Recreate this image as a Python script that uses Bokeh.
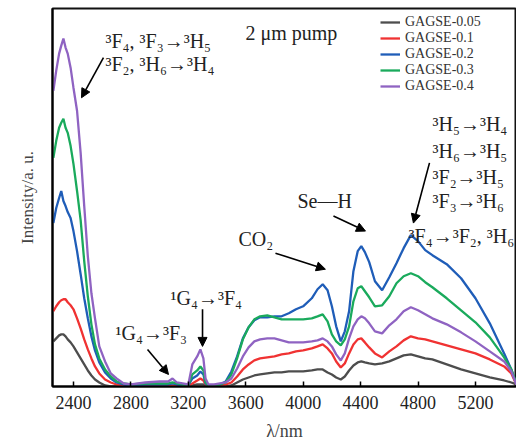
from bokeh.plotting import figure
from bokeh.models import Range1d, Label, Arrow, NormalHead, Legend, LegendItem, FixedTicker
from bokeh.embed import file_html
from bokeh.resources import INLINE

# ---------------- data ----------------
wavelength = [2260, 2280, 2300, 2315, 2330, 2345, 2360, 2380, 2400, 2425, 2450, 2475, 2500, 2525,
              2550, 2580, 2620, 2660, 2700, 2750, 2800,
              2900, 3000, 3060, 3090, 3120, 3160, 3200,
              3228, 3262, 3284, 3305, 3320, 3340, 3380, 3420,
              3460, 3500, 3540, 3580, 3620, 3660, 3700, 3750, 3800, 3850, 3900, 3950,
              4000, 4060, 4100, 4136, 4170, 4200, 4230, 4262, 4290, 4320, 4350, 4380, 4405, 4430,
              4460, 4500, 4550, 4600, 4650, 4700, 4750, 4800, 4850, 4900, 5000, 5100, 5200, 5300,
              5400, 5450, 5485]

gagse_005 = [45, 48, 51, 52, 52, 50, 47, 44, 40, 34, 28, 22, 16, 11, 7, 4, 1, 0, 0, 0, 0,
             0, 0, 0, 0, 0, 0, 0,
             1, 2, 2, 2, 1, 0, 0, 0,
             0, 1, 4, 7, 9, 11, 12, 13, 14, 14, 15, 15,
             15, 16, 17, 17, 14, 12, 9, 7, 10, 16, 21, 24, 25, 24, 23, 22, 23, 25, 28, 31, 32,
             30, 28, 27, 22, 17, 13, 9, 6, 4, 2]
gagse_01 = [75, 80, 84, 86, 87, 87, 84, 81, 77, 68, 58, 47, 37, 28, 20, 13, 7, 4, 2, 1, 1,
            1, 1, 1, 1, 1, 1, 1,
            3, 6, 8, 6, 2, 1, 1, 2,
            2, 4, 10, 17, 22, 26, 28, 29, 30, 32, 33, 35,
            36, 38, 40, 42, 38, 33, 25, 19, 23, 33, 42, 47, 48, 44, 39, 33, 29, 35, 40, 46, 50,
            48, 47, 45, 41, 37, 33, 27, 20, 13, 2]
gagse_02 = [163, 178, 188, 195, 185, 180, 174, 168, 155, 135, 112, 88, 68, 50, 36, 24, 14, 8, 4, 2, 1,
            2, 2, 2, 3, 2, 1, 1,
            8, 11, 15, 12, 3, 1, 1, 2,
            5, 15, 30, 48, 59, 66, 69, 69, 70, 70, 73, 77,
            80, 88, 97, 102, 96, 80, 60, 45, 55, 75, 115, 135, 140, 134, 124, 105, 96, 109, 123,
            138, 151, 145, 136, 131, 122, 108, 88, 63, 33, 17, 2]
gagse_03 = [228, 245, 258, 263, 267, 258, 253, 240, 222, 195, 166, 125, 90, 62, 42, 28, 17, 10, 5, 3, 2,
            3, 3, 3, 4, 3, 2, 1,
            12, 16, 20, 16, 4, 1, 1, 2,
            4, 12, 28, 47, 59, 67, 70, 71, 69, 67, 67, 67,
            67, 68, 70, 72, 65, 52, 45, 41, 47, 60, 85, 98, 100, 95, 89, 80, 81, 90, 103, 110,
            113, 110, 104, 99, 88, 76, 64, 49, 29, 17, 3]
gagse_04 = [295, 315, 332, 340, 347, 338, 332, 318, 298, 275, 233, 180, 130, 93, 68, 40, 25, 13, 8, 3, 2,
            4, 5, 5, 8, 4, 3, 2,
            22, 30, 37, 28, 8, 2, 2, 3,
            4, 8, 18, 30, 39, 45, 47, 48, 48, 46, 44, 44,
            44, 45, 46, 48, 45, 40, 32, 26, 33, 48, 60, 67, 70, 68, 63, 55, 53, 61, 67, 75, 79,
            76, 72, 68, 62, 54, 45, 35, 25, 15, 2]

series_names = ["GAGSE-0.05", "GAGSE-0.1", "GAGSE-0.2", "GAGSE-0.3", "GAGSE-0.4"]
series_values = [gagse_005, gagse_01, gagse_02, gagse_03, gagse_04]
series_colors = ["#4d4d4d", "#f03232", "#1f5db8", "#1aaa5c", "#8f63c2"]

x_ticks = [2400, 2800, 3200, 3600, 4000, 4400, 4800, 5200]

# annotations: (text, x, y) in data units
annotations = [
    ("2 \u03bcm pump", 3598, 353),
    ("\u00b3F\u2084, \u00b3F\u2083\u2192\u00b3H\u2085", 2623, 345),
    ("\u00b3F\u2082, \u00b3H\u2086\u2192\u00b3H\u2084", 2623, 322),
    ("\u00b3H\u2085\u2192\u00b3H\u2084", 4901, 262),
    ("\u00b3H\u2086\u2192\u00b3H\u2085", 4901, 235),
    ("\u00b3F\u2082\u2192\u00b3H\u2085", 4901, 209),
    ("\u00b3F\u2083\u2192\u00b3H\u2086", 4901, 185),
    ("\u00b3F\u2084\u2192\u00b3F\u2082, \u00b3H\u2086", 4734, 150),
    ("Se\u2014H", 3960, 185),
    ("CO\u2082", 3549, 147),
    ("\u00b9G\u2084\u2192\u00b3F\u2084", 3076, 88),
    ("\u00b9G\u2084\u2192\u00b3F\u2083", 2693, 53),
]
# arrows: (x_start, y_start, x_end, y_end) in data units
arrows = [
    (2609, 328, 2456, 288),
    (4880, 223, 4768, 163),
    (4211, 170, 4434, 155),
    (3807, 133, 4155, 117),
    (3299, 77, 3299, 40),
    (2916, 37, 3062, 12),
]

SERIF = "Liberation Serif"

p = figure(width=516, height=443, output_backend="svg", toolbar_location=None,
           x_range=Range1d(2254, 5486), y_range=Range1d(0, 377),
           min_border_left=52, min_border_right=0, min_border_top=8, min_border_bottom=50)
p.background_fill_color = "white"
p.border_fill_color = "white"
p.outline_line_color = "#111111"
p.outline_line_width = 2
p.xgrid.visible = False
p.ygrid.visible = False

p.xaxis.ticker = FixedTicker(ticks=x_ticks)
p.xaxis.major_tick_in = 5
p.xaxis.major_tick_out = 0
p.xaxis.minor_tick_line_color = None
p.xaxis.axis_line_width = 2
p.xaxis.major_tick_line_width = 1.5
p.xaxis.major_label_text_font = SERIF
p.xaxis.major_label_text_font_size = "18px"
p.xaxis.major_label_text_color = "#222222"
p.xaxis.major_label_standoff = 9
p.xaxis.axis_label = "\u03bb/nm"
p.xaxis.axis_label_text_font = SERIF
p.xaxis.axis_label_text_font_size = "18px"
p.xaxis.axis_label_text_font_style = "normal"
p.xaxis.axis_label_standoff = 9

p.yaxis.ticker = FixedTicker(ticks=[])
p.yaxis.major_tick_line_color = None
p.yaxis.minor_tick_line_color = None
p.yaxis.axis_line_width = 2
p.yaxis.axis_label = "Intensity/a. u."
p.yaxis.axis_label_text_font = SERIF
p.yaxis.axis_label_text_font_size = "17px"
p.yaxis.axis_label_text_font_style = "normal"
p.yaxis.axis_label_standoff = 16

items = []
for name, vals, col in zip(series_names, series_values, series_colors):
    r = p.line(wavelength, vals, line_color=col, line_width=2.3)
    items.append(LegendItem(label=name, renderers=[r]))

legend = Legend(items=items, location=(328, 292), border_line_color=None,
                background_fill_alpha=0, padding=0, margin=0, spacing=0,
                glyph_width=20, glyph_height=16, label_height=16, label_standoff=5,
                label_text_font=SERIF, label_text_font_size="14px",
                label_text_color="#333333")
p.add_layout(legend)

for txt, x, y in annotations:
    p.add_layout(Label(x=x, y=y, text=txt, text_font=SERIF, text_font_size="20px",
                       text_color="#222222", text_baseline="middle", text_align="left"))

for xs, ys, xe, ye in arrows:
    p.add_layout(Arrow(x_start=xs, y_start=ys, x_end=xe, y_end=ye, line_color="black",
                       line_width=1.6,
                       end=NormalHead(size=9, fill_color="black", line_color="black")))

open("out.html", "w").write(file_html(p, INLINE))
